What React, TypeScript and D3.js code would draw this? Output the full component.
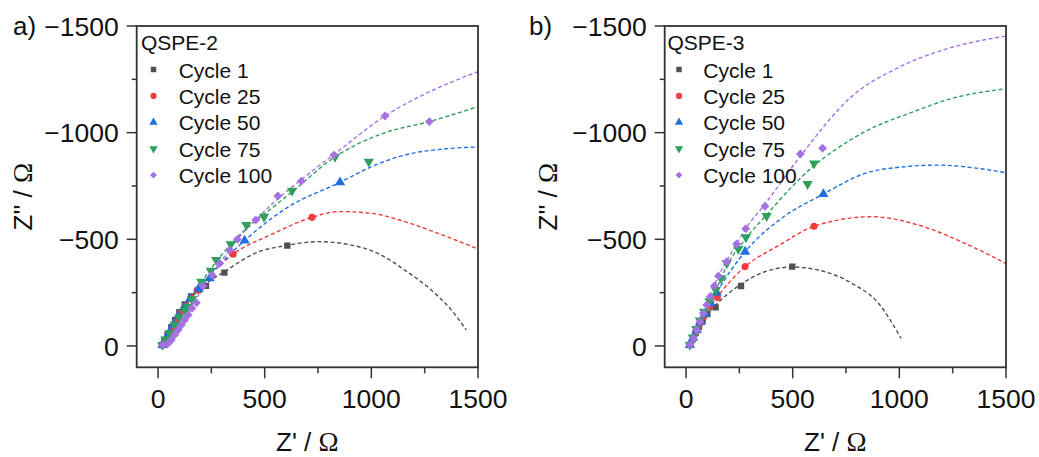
import React from "react";
import * as d3 from "d3";

type P = [number, number];

const cycles = ["Cycle 1", "Cycle 25", "Cycle 50", "Cycle 75", "Cycle 100"];
const colors = ["#505050", "#f03c3c", "#1e6fe2", "#2ea05c", "#a472e0"];
const xTicks = [0, 500, 1000, 1500];
const yTicks = [0, -500, -1000, -1500];
const xMinor = [250, 750, 1250];
const yMinor = [-250, -750, -1250];

// ---- Panel a: QSPE-2 ----
const a1Pts: P[] = [[18,-4],[30,-25],[45,-55],[62,-88],[80,-122],[100,-158],[125,-195],[155,-232],[190,-262],[225,-282],[311,-344],[606,-470]];
const a1Fit: P[] = [[18,-4],[62,-88],[125,-195],[190,-265],[250,-310],[311,-348],[453,-434],[606,-472],[750,-489],[906,-473],[1031,-434],[1156,-356],[1281,-262],[1375,-169],[1445,-75]];
const a25Pts: P[] = [[20,-6],[30,-28],[47,-52],[60,-68],[70,-88],[88,-118],[103,-153],[130,-190],[155,-228],[184,-262],[352,-430],[722,-603]];
const a25Fit: P[] = [[20,-6],[70,-88],[130,-190],[190,-272],[260,-350],[352,-430],[530,-522],[722,-603],[844,-630],[1000,-622],[1156,-583],[1312,-528],[1500,-455]];
const a50Pts: P[] = [[22,-5],[35,-30],[52,-62],[72,-100],[95,-140],[122,-180],[150,-220],[190,-268],[242,-317],[406,-494],[853,-767]];
const a50Fit: P[] = [[22,-5],[95,-140],[190,-268],[300,-392],[406,-494],[600,-645],[853,-767],[1000,-840],[1156,-895],[1359,-925],[1500,-933]];
const a75Pts: P[] = [[20,-5],[35,-30],[55,-60],[78,-100],[100,-135],[125,-168],[141,-184],[159,-219],[203,-301],[247,-353],[273,-403],[341,-477],[414,-567],[497,-606],[628,-728],[830,-887],[988,-864]];
const a75Fit: P[] = [[20,-5],[100,-135],[203,-300],[273,-395],[341,-477],[414,-550],[500,-620],[628,-722],[830,-887],[1056,-997],[1272,-1052],[1500,-1122]];
const a100Pts: P[] = [[23,-5],[47,-12],[62,-28],[78,-52],[94,-75],[109,-98],[125,-122],[141,-145],[159,-177],[180,-203],[211,-281],[253,-333],[289,-387],[336,-450],[372,-500],[458,-591],[562,-703],[672,-773],[825,-895],[1064,-1078],[1272,-1052]];
const a100Fit: P[] = [[23,-5],[94,-75],[159,-177],[211,-281],[289,-387],[372,-500],[458,-591],[562,-690],[672,-780],[825,-898],[1064,-1078],[1291,-1200],[1500,-1286]];

// ---- Panel b: QSPE-3 ----
const b1Pts: P[] = [[18,-5],[30,-30],[45,-60],[60,-90],[78,-120],[100,-150],[139,-181],[258,-281],[498,-372]];
const b1Fit: P[] = [[18,-5],[60,-90],[100,-150],[139,-192],[258,-290],[370,-348],[498,-370],[620,-356],[777,-294],[902,-200],[1008,-36]];
const b25Pts: P[] = [[18,-5],[32,-35],[48,-70],[65,-105],[85,-140],[110,-185],[147,-227],[277,-372],[600,-561]];
const b25Fit: P[] = [[18,-5],[85,-140],[147,-230],[277,-372],[433,-470],[600,-561],[870,-606],[1089,-567],[1308,-481],[1500,-386]];
const b50Pts: P[] = [[18,-5],[33,-38],[50,-75],[68,-112],[90,-150],[115,-200],[144,-250],[277,-442],[644,-712]];
const b50Fit: P[] = [[18,-5],[90,-150],[144,-250],[277,-442],[450,-600],[644,-712],[839,-809],[1000,-838],[1183,-848],[1350,-835],[1500,-812]];
const b75Pts: P[] = [[18,-5],[32,-40],[48,-80],[65,-120],[85,-160],[110,-210],[139,-262],[164,-317],[191,-388],[245,-455],[281,-510],[378,-609],[570,-759],[600,-856]];
const b75Fit: P[] = [[18,-5],[85,-160],[139,-262],[191,-375],[281,-505],[378,-615],[490,-740],[600,-845],[700,-920],[839,-1005],[1058,-1095],[1245,-1160],[1500,-1206]];
const b100Pts: P[] = [[19,-5],[34,-36],[50,-75],[66,-114],[81,-153],[97,-192],[113,-231],[133,-281],[152,-328],[191,-395],[237,-478],[280,-550],[370,-655],[536,-900],[640,-927]];
const b100Fit: P[] = [[19,-5],[66,-114],[113,-231],[152,-328],[191,-400],[237,-478],[280,-550],[370,-665],[536,-890],[777,-1170],[995,-1305],[1230,-1395],[1500,-1453]];

const panelA = { label: "a)", title: "QSPE-2", pts: [a1Pts, a25Pts, a50Pts, a75Pts, a100Pts], fits: [a1Fit, a25Fit, a50Fit, a75Fit, a100Fit] };
const panelB = { label: "b)", title: "QSPE-3", pts: [b1Pts, b25Pts, b50Pts, b75Pts, b100Pts], fits: [b1Fit, b25Fit, b50Fit, b75Fit, b100Fit] };

const FONT = "Arial, 'Liberation Sans', Helvetica, sans-serif";
const SERIF = "'Liberation Serif', 'DejaVu Serif', serif";
const fmt = (v: number) => (v < 0 ? "\u2212" + Math.abs(v) : String(v));

function symbolPath(i: number, size: number): { d: string; rot: number } {
  const types = [d3.symbolSquare, d3.symbolCircle, d3.symbolTriangle, d3.symbolTriangle, d3.symbolDiamond2];
  const d = d3.symbol().type(types[i]).size(size)() as string;
  return { d, rot: i === 3 ? 180 : 0 };
}

function Panel(props: {
  data: typeof panelA;
  left: number;
  labelX: number;
  yTitleX: number;
  legMarkX: number;
  legTextX: number;
  legTitleX: number;
}) {
  const { data, left } = props;
  const top = 26;
  const x = d3.scaleLinear().domain([-100, 1500]).range([left, left + 341.3]);
  const y = d3.scaleLinear().domain([100, -1500]).range([367.3, top]);
  const line = d3
    .line<P>()
    .x((d) => x(d[0]))
    .y((d) => y(d[1]))
    .curve(d3.curveMonotoneX);
  const x0 = x.range()[0], x1 = x.range()[1];
  const y0 = y.range()[0], y1 = y.range()[1];
  const clipId = "clip-" + data.title;
  const sizes = [40, 40, 46, 46, 50];
  return (
    <g>
      <defs>
        <clipPath id={clipId}>
          <rect x={x0} y={y1} width={x1 - x0} height={y0 - y1} />
        </clipPath>
      </defs>
      <g clipPath={`url(#${clipId})`}>
        {data.fits.map((f, i) => (
          <path key={"f" + i} d={line(f) as string} fill="none" stroke={colors[i]} strokeWidth={1.4} strokeDasharray="4,2.6" />
        ))}
        {data.pts.map((ps, i) =>
          ps.map((p, j) => {
            const s = symbolPath(i, sizes[i]);
            return (
              <path key={"m" + i + "-" + j} d={s.d} fill={colors[i]} transform={`translate(${x(p[0])},${y(p[1])}) rotate(${s.rot})`} />
            );
          })
        )}
      </g>
      <rect x={x0} y={y1} width={x1 - x0} height={y0 - y1} fill="none" stroke="#333" strokeWidth={1.8} />
      {yTicks.map((t) => (
        <g key={"yt" + t}>
          <line x1={x0 - 10} x2={x0} y1={y(t)} y2={y(t)} stroke="#333" strokeWidth={1.5} />
          <text x={x0 - 18} y={y(t)} dy="0.36em" textAnchor="end" fontSize={26.5} fontFamily={FONT} fill="#111">
            {fmt(t)}
          </text>
        </g>
      ))}
      {yMinor.map((t) => (
        <line key={"ym" + t} x1={x0 - 5} x2={x0} y1={y(t)} y2={y(t)} stroke="#333" strokeWidth={1.5} />
      ))}
      {xTicks.map((t) => (
        <g key={"xt" + t}>
          <line x1={x(t)} x2={x(t)} y1={y0} y2={y0 + 11} stroke="#333" strokeWidth={1.5} />
          <text x={x(t)} y={y0 + 41} textAnchor="middle" fontSize={26.5} fontFamily={FONT} fill="#111">
            {fmt(t)}
          </text>
        </g>
      ))}
      {xMinor.map((t) => (
        <line key={"xm" + t} x1={x(t)} x2={x(t)} y1={y0} y2={y0 + 6} stroke="#333" strokeWidth={1.5} />
      ))}
      <text x={(x0 + x1) / 2} y={451} textAnchor="middle" fontSize={26} fontFamily={FONT} fill="#111">
        {"Z' / "}
        <tspan fontFamily={SERIF} fontSize={27}>{"\u03A9"}</tspan>
      </text>
      <text
        transform={`translate(${props.yTitleX},${(y0 + y1) / 2}) rotate(-90)`}
        textAnchor="middle"
        fontSize={26}
        fontFamily={FONT}
        fill="#111"
      >
        {"Z'' / "}
        <tspan fontFamily={SERIF} fontSize={27}>{"\u03A9"}</tspan>
      </text>
      <text x={props.labelX} y={35} fontSize={26} fontFamily={FONT} fill="#111">
        {data.label}
      </text>
      <text x={props.legTitleX} y={50} fontSize={21} fontFamily={FONT} fill="#111">
        {data.title}
      </text>
      {cycles.map((c, i) => {
        const by = 77.5 + i * 26.4;
        const s = symbolPath(i, 30);
        return (
          <g key={"lg" + i}>
            <path d={s.d} fill={colors[i]} transform={`translate(${props.legMarkX},${by - 8}) rotate(${s.rot})`} />
            <text x={props.legTextX} y={by} fontSize={21} fontFamily={FONT} fill="#111">
              {c}
            </text>
          </g>
        );
      })}
    </g>
  );
}

export default function App() {
  return (
    <svg
      width={1039}
      height={457}
      viewBox="0 0 1039 457"
      style={{ position: "absolute", left: 0, top: 0, background: "#fff" }}
    >
      <rect width={1039} height={457} fill="#fff" />
      <Panel data={panelA} left={136.7} labelX={13} yTitleX={32} legMarkX={153.5} legTextX={178.7} legTitleX={141} />
      <Panel data={panelB} left={664.7} labelX={529} yTitleX={557} legMarkX={679} legTextX={703.3} legTitleX={667.5} />
    </svg>
  );
}
